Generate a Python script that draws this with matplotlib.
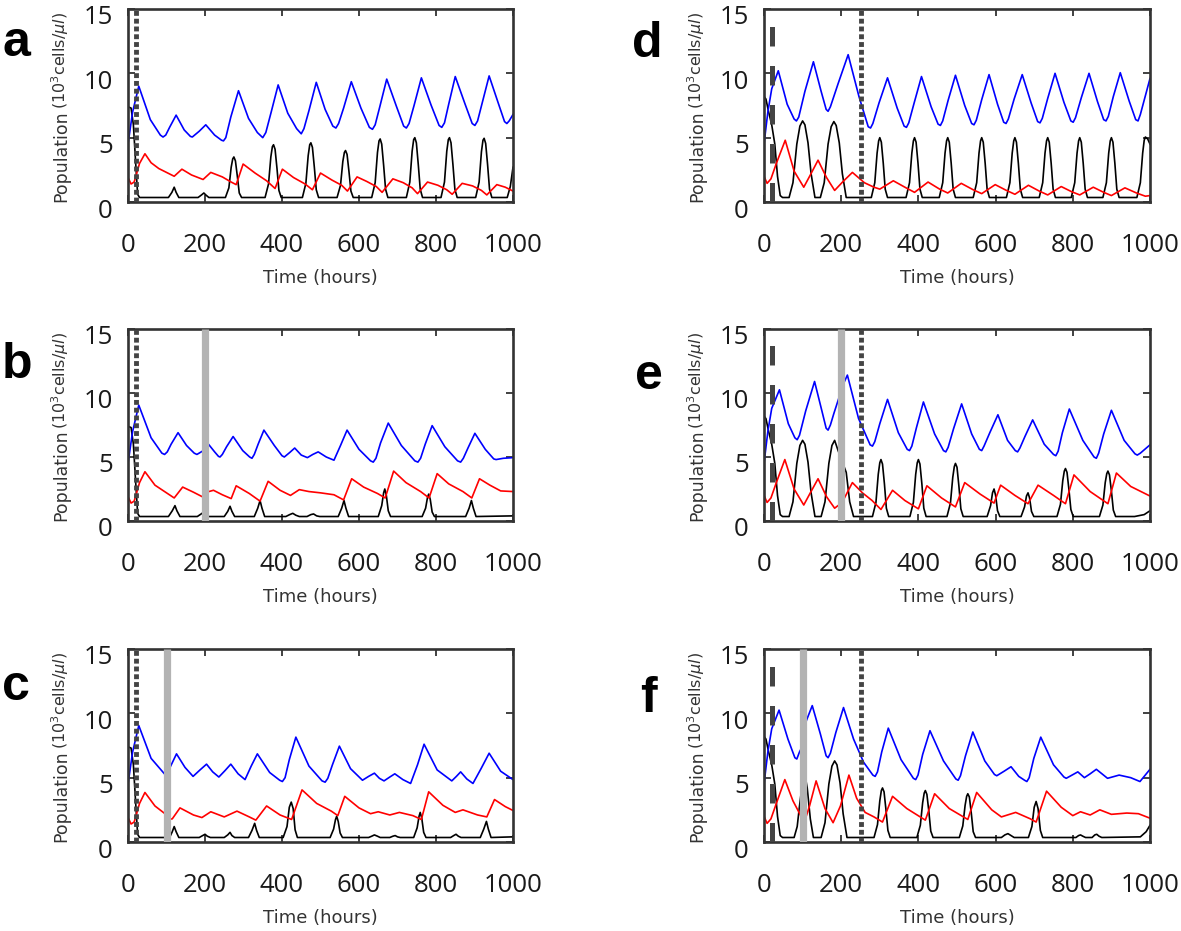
import numpy as np
import matplotlib.pyplot as plt
from matplotlib.transforms import ScaledTranslation

# --- Daten: (Zeit in Stunden, Population in 10^3 Zellen/ul) ---
t_ticks = [0, 200, 400, 600, 800, 1000]
y_ticks = [0, 5, 10, 15]

a_blue = [(0,4.5),(12,7.0),(28,9.0),(58,6.4),(84,5.2),(91,5.05),(98,5.2),(108,5.8),(125,6.75),(146,5.6),(162,5.1),(167,5.05),(185,5.5),
          (202,6.0),(225,5.2),(243,4.8),(248,4.75),(254,5.0),(267,6.6),(287,8.65),(313,6.5),(336,5.4),(350,5.0),(358,5.4),(372,7.0),(390,9.1),
          (415,6.9),(438,5.7),(450,5.3),(457,5.7),(470,7.1),(489,9.3),(512,7.2),(532,5.9),(540,5.75),(547,6.1),(560,7.3),(580,9.35),(605,7.3),
          (627,5.8),(635,5.65),(642,6.0),(654,7.4),(672,9.55),(697,7.45),(716,5.9),(723,5.75),(730,6.1),(743,7.5),(762,9.65),(787,7.55),(808,5.95),(815,5.8),(822,6.15),(833,7.6),
          (850,9.75),(875,7.65),(894,6.1),(901,5.95),(908,6.3),(920,7.7),(938,9.8),(961,7.75),(978,6.25),(984,6.1),(990,6.3),(1000,6.8)]
a_red = [(0,1.9),(8,1.4),(16,1.55),(30,3.0),(44,3.75),(60,3.05),(80,2.6),(100,2.3),(120,2.0),(140,2.55),
         (165,2.1),(195,1.75),(215,2.3),(245,1.95),(268,1.55),(281,1.35),(299,2.95),(330,2.25),(360,1.65),(382,1.05),
         (401,2.55),(430,1.9),(460,1.4),(479,0.95),(500,2.25),(530,1.7),(555,1.3),(570,0.85),(595,1.95),(620,1.6),
         (645,1.2),(660,0.75),(688,1.8),(715,1.5),(738,1.1),(752,0.65),(778,1.55),(805,1.3),(828,0.95),(842,0.6),
         (868,1.45),(895,1.25),(918,0.9),(932,0.55),(958,1.35),(980,1.15),(1000,0.85)]
a_black = [(0,7.4),(8,7.3),(14,6.0),(20,3.0),(25,0.6),(30,0.35),
           (105,0.35),(114,0.75),(120,1.15),(125,0.75),(132,0.35),
           (182,0.35),(191,0.55),(197,0.7),(202,0.55),(210,0.35),
           (253,0.35),(262,1.1),(268,2.7),(272,3.35),(275,3.5),(279,3.2),(284,2.0),(289,0.7),(295,0.35),
           (356,0.35),(365,1.4),(371,3.5),(375,4.3),(378,4.45),(382,4.1),(387,2.6),(392,0.9),(398,0.35),
           (453,0.35),(462,1.45),(468,3.6),(472,4.45),(475,4.6),(479,4.25),(484,2.7),(489,0.95),(495,0.35),
           (543,0.35),(552,1.3),(558,3.15),(562,3.85),(565,4.0),(569,3.7),(574,2.35),(579,0.85),(585,0.35),
           (633,0.35),(642,1.5),(648,3.85),(652,4.75),(655,4.9),(659,4.5),(664,2.85),(669,1.0),(675,0.35),
           (723,0.35),(732,1.55),(738,3.95),(742,4.85),(745,5.0),(749,4.6),(754,2.9),(759,1.0),(765,0.35),
           (813,0.35),(822,1.55),(828,3.95),(832,4.85),(835,5.0),(839,4.6),(844,2.9),(849,1.0),(855,0.35),
           (903,0.35),(912,1.55),(918,3.9),(922,4.8),(925,4.95),(929,4.55),(934,2.9),(939,1.0),(945,0.35),
           (985,0.35),(993,1.2),(1000,2.7)]

b_blue = [(0,4.5),(12,7.0),(28,9.05),(60,6.5),(88,5.3),(95,5.2),(102,5.4),(112,6.0),(130,6.9),(152,5.9),(172,5.3),(179,5.2),(193,5.45),
          (209,6.0),(225,5.4),(235,5.05),(239,5.0),(245,5.2),(256,5.8),(273,6.6),(298,5.5),(316,5.0),(322,4.9),(328,5.2),(338,6.0),(353,7.1),(380,5.9),
          (400,5.1),(406,5.0),(420,5.35),(433,5.7),(450,5.15),(466,4.95),(480,5.2),(494,5.4),(515,5.0),(535,4.75),(552,5.9),
          (569,7.1),(600,5.6),(630,4.7),(637,4.6),(644,4.9),(656,6.1),(676,7.65),(710,5.9),(745,4.7),(753,4.6),(760,4.9),(772,6.0),(790,7.45),(823,5.8),
          (856,4.7),(864,4.6),(871,4.9),(883,5.7),(901,6.85),(928,5.6),(950,4.85),(956,4.8),(975,4.9),(1000,4.95)]
b_red = [(0,1.9),(8,1.4),(16,1.55),(30,3.0),(44,3.85),(70,2.8),(100,2.2),(120,1.8),(142,2.65),(170,2.25),
         (196,1.85),(204,2.25),(222,2.4),(245,2.05),(268,1.75),(281,2.75),(315,2.15),(343,1.55),(364,3.1),(395,2.4),
         (422,2.0),(445,2.45),(470,2.3),(500,2.2),(535,2.05),(560,1.65),(581,3.3),(612,2.65),(648,2.15),(668,1.8),
         (690,3.9),(722,3.0),(760,2.3),(782,1.8),(803,3.7),(833,2.9),(870,2.3),(893,1.8),(913,3.3),(940,2.8),
         (968,2.35),(1000,2.3)]
b_black = [(0,7.4),(8,7.3),(14,6.0),(20,3.0),(25,0.6),(30,0.35),
           (105,0.35),(115,0.8),(122,1.2),(127,0.8),(135,0.35),
           (180,0.35),(190,0.55),(197,0.7),(203,0.4),(210,0.35),
           (250,0.35),(259,0.75),(265,1.15),(270,0.75),(277,0.35),
           (328,0.35),(337,1.0),(343,1.6),(348,1.0),(355,0.35),
           (410,0.35),(420,0.5),(428,0.6),(436,0.45),(445,0.35),
           (465,0.35),(475,0.5),(482,0.55),(490,0.4),(498,0.35),
           (546,0.35),(555,1.0),(561,1.6),(566,1.0),(573,0.35),
           (650,0.35),(659,1.2),(664,2.2),(667,2.5),(671,2.0),(676,0.8),(682,0.35),
           (764,0.35),(773,1.0),(778,1.85),(781,2.1),(785,1.7),(790,0.7),(796,0.35),
           (877,0.35),(886,1.0),(892,1.6),(897,1.0),(904,0.35),(1000,0.4)]

c_blue = [(0,4.5),(12,7.0),(28,9.05),(60,6.5),(96,5.25),(106,5.6),(126,6.85),(148,5.8),(169,5.1),(187,5.6),
          (204,6.05),(220,5.45),(236,5.05),(252,5.55),(267,6.05),(286,5.3),(304,4.85),(320,5.9),(336,6.85),(368,5.4),
          (394,4.8),(401,4.7),(408,5.0),(419,6.4),(436,8.15),(470,5.9),(504,4.75),(512,4.65),(519,4.95),(531,6.0),(549,7.45),(578,5.7),(609,4.8),(625,5.1),
          (640,5.35),(653,4.95),(665,4.75),(680,5.05),(693,5.3),(714,4.85),(734,4.55),(752,6.0),(769,7.6),(803,5.6),
          (841,4.75),(853,5.1),(864,5.45),(880,4.9),(896,4.55),(917,5.7),(938,6.9),(968,5.5),(1000,4.85)]
c_red = [(0,1.9),(8,1.4),(16,1.55),(30,3.0),(44,3.85),(70,2.8),(96,2.2),(104,1.75),(115,1.8),(135,2.65),
         (170,2.1),(192,1.9),(215,2.35),(250,1.95),(283,2.4),(315,1.95),(332,1.7),(360,2.8),(395,2.1),(425,1.75),
         (452,4.05),(490,3.0),(528,2.4),(545,2.05),(563,3.55),(600,2.65),(630,2.2),(650,2.35),(680,2.1),(705,2.3),
         (740,2.05),(762,1.75),(781,3.9),(818,2.85),(850,2.3),(870,2.5),(908,2.1),(932,1.95),(952,3.3),(980,2.75),
         (1000,2.45)]
c_black = [(0,7.4),(8,7.3),(14,6.0),(20,3.0),(25,0.6),(30,0.35),
           (108,0.35),(115,0.8),(120,1.2),(125,0.8),(132,0.35),
           (185,0.35),(194,0.5),(200,0.6),(206,0.45),(214,0.35),
           (250,0.35),(259,0.55),(265,0.75),(270,0.5),(277,0.35),
           (313,0.35),(322,0.9),(329,1.45),(334,0.9),(341,0.35),
           (403,0.35),(413,1.2),(419,2.7),(424,3.1),(429,2.6),(434,0.95),(440,0.35),
           (525,0.35),(534,1.0),(539,1.75),(542,2.0),(546,1.6),(551,0.7),(557,0.35),
           (625,0.35),(633,0.45),(640,0.55),(648,0.45),(655,0.35),
           (680,0.35),(688,0.45),(694,0.5),(700,0.4),(707,0.35),
           (742,0.35),(751,1.1),(756,2.0),(759,2.3),(763,1.85),(768,0.75),(774,0.35),
           (838,0.35),(846,0.5),(852,0.6),(858,0.45),(865,0.35),
           (915,0.35),(924,1.0),(931,1.6),(936,1.0),(943,0.35),(1000,0.4)]

d_blue = [(0,4.5),(10,7.0),(20,8.8),(37,10.2),(60,7.6),(78,6.45),(84,6.3),(90,6.6),(106,8.6),(128,10.9),(148,8.6),(161,7.2),(166,7.05),(172,7.4),
          (192,9.2),(218,11.45),(246,8.2),(270,5.85),(276,5.75),(282,6.1),(298,7.7),(320,9.65),(345,7.3),(363,5.9),(369,5.8),(375,6.15),(389,7.7),(408,9.75),
          (433,7.4),(451,6.05),(457,5.95),(463,6.3),(477,7.9),(496,9.85),(520,7.5),(538,6.1),(544,6.0),(550,6.35),(564,7.95),(583,9.9),(605,7.6),(621,6.2),(627,6.1),
          (633,6.45),(648,8.0),(669,9.9),(692,7.7),(709,6.25),(715,6.15),(721,6.5),(735,8.05),(754,10.0),(777,7.75),(795,6.3),(801,6.2),(807,6.55),(822,8.1),(842,10.0),
          (864,7.8),(880,6.4),(886,6.3),(892,6.65),(905,8.2),(923,10.05),(946,7.85),(963,6.4),(969,6.3),(975,6.8),(1000,9.6)]
d_red = [(0,2.0),(8,1.45),(18,1.8),(32,3.0),(55,4.8),(78,2.4),(103,1.15),(120,2.1),(140,3.25),(162,1.9),
         (183,0.9),(205,1.6),(229,2.3),(260,1.5),(285,1.15),(300,1.0),(335,1.65),(368,1.1),(390,0.75),(425,1.55),
         (455,1.0),(476,0.7),(511,1.45),(542,0.95),(564,0.65),(599,1.35),(628,0.9),(650,0.6),(685,1.3),(713,0.85),
         (735,0.55),(770,1.2),(797,0.8),(818,0.55),(853,1.15),(880,0.75),(900,0.5),(935,1.1),(965,0.7),(988,0.45),
         (1000,0.5)]
d_black = [(0,8.2),(5,8.0),(12,7.0),(20,6.0),(28,4.5),(35,2.0),(42,0.5),(48,0.35),
           (65,0.35),(75,1.5),(85,4.5),(93,5.9),(100,6.3),(106,6.0),(114,4.6),(122,2.2),(132,0.35),
           (146,0.35),(156,1.5),(166,4.5),(174,5.85),(181,6.25),(187,5.95),(195,4.6),(203,2.2),(213,0.35),
           (278,0.35),(287,1.5),(293,3.8),(297,4.75),(300,5.0),(304,4.65),(309,3.0),(314,1.0),(320,0.35),
           (368,0.35),(377,1.5),(383,3.8),(387,4.75),(390,5.0),(394,4.65),(399,3.0),(404,1.0),(410,0.35),
           (454,0.35),(463,1.5),(469,3.8),(473,4.75),(476,5.0),(480,4.65),(485,3.0),(490,1.0),(496,0.35),
           (542,0.35),(551,1.5),(557,3.8),(561,4.75),(564,5.0),(568,4.65),(573,3.0),(578,1.0),(584,0.35),
           (628,0.35),(637,1.5),(643,3.8),(647,4.75),(650,5.0),(654,4.65),(659,3.0),(664,1.0),(670,0.35),
           (713,0.35),(722,1.5),(728,3.8),(732,4.75),(735,5.0),(739,4.65),(744,3.0),(749,1.0),(755,0.35),
           (796,0.35),(805,1.5),(811,3.8),(815,4.75),(818,5.0),(822,4.65),(827,3.0),(832,1.0),(838,0.35),
           (878,0.35),(887,1.5),(893,3.8),(897,4.75),(900,5.0),(904,4.65),(909,3.0),(914,1.0),(920,0.35),
           (966,0.35),(975,1.5),(981,3.8),(985,4.8),(988,5.05),(994,4.9),(1000,4.5)]

e_blue = [(0,4.5),(10,7.0),(20,8.8),(40,10.25),(63,7.6),(80,6.5),(86,6.35),(92,6.7),(108,8.6),(131,10.9),(150,8.6),(161,7.25),(166,7.1),(172,7.5),
          (181,8.4),(196,9.8),(204,10.6),(216,11.4),(245,8.0),(275,5.95),(281,5.85),(287,6.2),(300,7.6),(320,9.5),(348,6.9),(371,5.6),(377,5.5),(383,5.85),
          (395,7.3),(413,9.3),(442,6.8),(465,5.5),(471,5.4),(477,5.75),(491,7.2),(512,9.15),(538,6.8),(558,5.6),(564,5.5),(570,5.85),(585,6.9),(606,8.3),
          (631,6.3),(651,5.5),(657,5.4),(663,5.7),(676,6.6),(696,7.9),(726,6.0),(750,5.2),(756,5.1),(762,5.45),(773,6.9),(791,8.75),(826,6.3),(855,5.0),(861,4.9),
          (867,5.3),(880,6.8),(900,8.65),(933,6.3),(961,5.25),(967,5.15),(975,5.3),(1000,5.95)]
e_red = [(0,2.0),(8,1.45),(18,1.8),(32,3.0),(54,4.8),(78,2.5),(103,1.25),(120,2.2),(140,3.3),(162,1.9),
         (183,1.0),(196,1.3),(205,1.6),(229,3.0),(255,2.2),(280,1.6),(303,0.9),(333,2.4),(365,1.6),(400,0.95),
         (422,2.75),(460,1.8),(496,1.1),(520,3.0),(560,2.1),(596,1.4),(613,2.8),(650,2.0),(684,1.35),(710,2.8),
         (750,2.0),(781,1.35),(803,3.6),(845,2.3),(891,1.35),(913,3.75),(950,2.7),(1000,1.95)]
e_black = [(0,8.2),(5,8.0),(12,7.0),(20,6.0),(28,4.5),(35,2.0),(42,0.5),(48,0.35),
           (65,0.35),(75,1.5),(85,4.5),(93,5.9),(100,6.3),(106,6.0),(114,4.6),(122,2.2),(132,0.35),
           (148,0.35),(158,1.5),(168,4.5),(176,5.9),(183,6.3),(192,5.5),(213,3.8),(222,1.5),(232,0.35),
           (281,0.35),(290,1.45),(296,3.65),(300,4.55),(303,4.8),(307,4.45),(312,2.9),(317,1.0),(323,0.35),
           (378,0.35),(387,1.45),(393,3.65),(397,4.55),(400,4.8),(404,4.45),(409,2.9),(414,1.0),(420,0.35),
           (474,0.35),(483,1.4),(489,3.4),(493,4.25),(496,4.5),(500,4.2),(505,2.7),(510,0.95),(516,0.35),
           (578,0.35),(587,1.2),(592,2.2),(596,2.5),(600,2.0),(605,0.8),(611,0.35),
           (666,0.35),(675,1.1),(680,1.95),(684,2.2),(688,1.8),(693,0.75),(699,0.35),
           (759,0.35),(768,1.3),(774,3.15),(778,3.9),(781,4.1),(785,3.8),(790,2.45),(795,0.9),(801,0.35),
           (869,0.35),(878,1.25),(884,3.0),(888,3.7),(891,3.9),(895,3.6),(900,2.35),(905,0.85),(911,0.35),
           (960,0.35),(985,0.5),(1000,0.8)]

f_blue = [(0,4.5),(10,7.0),(20,8.8),(39,10.25),(62,8.0),(80,6.55),(85,6.45),(92,7.0),(97,7.3),(104,8.9),(110,9.45),
          (125,10.6),(146,8.4),(161,6.7),(166,6.55),(172,6.9),(186,8.5),(206,10.45),(232,8.0),(258,6.2),(282,5.2),(288,5.1),(294,5.45),(305,7.0),(322,8.85),
          (355,6.4),(387,4.95),(393,4.85),(399,5.2),(411,6.8),(430,8.65),(465,6.3),(497,4.9),(503,4.8),(509,5.15),(522,6.7),(541,8.55),(572,6.3),(597,5.25),(603,5.15),
          (622,5.5),(640,5.85),(660,5.1),(675,4.8),(681,4.7),(687,5.0),(699,6.5),(717,8.15),(750,6.0),(777,5.05),(783,4.95),(798,5.2),(813,5.45),
          (830,5.0),(845,5.3),(861,5.65),(890,4.95),(920,5.2),(950,5.0),(974,4.7),(1000,5.65)]
f_red = [(0,2.0),(8,1.45),(18,1.8),(32,3.0),(54,4.85),(75,3.2),(96,2.0),(104,1.5),(118,2.8),(135,4.75),
         (158,2.6),(179,1.5),(198,2.8),(220,5.2),(240,3.4),(262,2.3),(285,1.95),(307,1.55),(333,3.55),(370,2.6),
         (418,1.7),(442,3.75),(480,2.6),(528,1.75),(551,3.85),(590,2.5),(615,1.95),(652,2.3),(690,1.8),(705,1.55),
         (732,3.95),(770,2.7),(800,2.05),(820,2.35),(845,2.1),(870,2.5),(900,2.15),(940,2.25),(970,2.2),(1000,1.85)]
f_black = [(0,8.2),(5,8.0),(12,7.0),(20,6.0),(28,4.5),(35,2.0),(42,0.5),(48,0.35),
           (78,0.35),(86,1.2),(92,2.8),(97,4.0),(104,5.6),(112,4.2),(120,1.8),(128,0.35),
           (148,0.35),(158,1.5),(168,4.5),(176,5.9),(183,6.3),(189,6.0),(197,4.6),(205,2.2),(215,0.35),
           (285,0.35),(294,1.35),(300,3.2),(304,4.0),(307,4.2),(311,3.9),(316,2.5),(321,0.9),(327,0.35),
           (396,0.35),(405,1.3),(411,3.05),(415,3.8),(418,4.0),(422,3.7),(427,2.4),(432,0.85),(438,0.35),
           (506,0.35),(515,1.25),(521,2.85),(525,3.55),(528,3.75),(532,3.5),(537,2.25),(542,0.8),(548,0.35),
           (615,0.35),(624,0.55),(632,0.65),(640,0.5),(648,0.35),
           (685,0.35),(694,1.2),(700,2.7),(705,3.15),(710,2.6),(716,0.9),(722,0.35),
           (808,0.35),(815,0.5),(820,0.55),(826,0.45),(833,0.35),
           (850,0.35),(857,0.55),(862,0.6),(868,0.45),(875,0.35),
           (975,0.4),(990,0.8),(1000,1.3)]

# Markierungen (Zeitpunkte in Stunden)
dotted_a, bar_a, dashed_a = [20], [], []
dotted_b, bar_b, dashed_b = [20], [200], []
dotted_c, bar_c, dashed_c = [20], [100], []
dotted_d, bar_d, dashed_d = [250], [], [20]
dotted_e, bar_e, dashed_e = [250], [200], [20]
dotted_f, bar_f, dashed_f = [250], [100], [20]

# --- Layout (Pixel der Vorlage -> Figurenbruchteile) ---
W, H = 1181, 931
fig = plt.figure(figsize=(W / 100, H / 100), dpi=100)

def px_axes(x0, x1, y0, y1):
    return fig.add_axes([x0 / W, 1 - y1 / H, (x1 - x0) / W, (y1 - y0) / H])

panels = [
    ('a', (128, 513, 9, 202), a_blue, a_red, a_black, dotted_a, bar_a, dashed_a, (2, 56)),
    ('b', (128, 513, 329, 521), b_blue, b_red, b_black, dotted_b, bar_b, dashed_b, (2, 378)),
    ('c', (128, 513, 649, 842), c_blue, c_red, c_black, dotted_c, bar_c, dashed_c, (2, 700)),
    ('d', (764, 1150, 9, 202), d_blue, d_red, d_black, dotted_d, bar_d, dashed_d, (632, 57)),
    ('e', (764, 1150, 329, 521), e_blue, e_red, e_black, dotted_e, bar_e, dashed_e, (635, 389)),
    ('f', (764, 1150, 649, 842), f_blue, f_red, f_black, dotted_f, bar_f, dashed_f, (640, 712)),
]

tick_font = ['Open Sans', 'DejaVu Sans']
frame_col = '#333333'
mark_col = '#444444'

for letter, box, blue, red, black, dotted, bars, dashed, lpos in panels:
    ax = px_axes(*box)
    for series, col in [(black, 'black'), (red, '#ff0000'), (blue, '#0000ff')]:
        t, v = zip(*series)
        ax.plot(t, v, color=col, lw=1.2, zorder=2)

    for tb in bars:
        ax.plot([tb, tb], [0, 15], color='#b3b3b3', lw=5.2, solid_capstyle='butt', zorder=4)
    for td in dotted:
        ax.plot([td, td], [0, 15], color=mark_col, lw=3.5, linestyle=(0, (1.0, 0.6)), zorder=5)
    for tl in dashed:
        ax.plot([tl, tl], [0, 15], color=mark_col, lw=3.6, linestyle=(0, (3.9, 3.9)), zorder=5)

    ax.set_xlim(0, 1000)
    ax.set_ylim(0, 15)
    ax.set_xticks(t_ticks)
    ax.set_yticks(y_ticks)
    ax.tick_params(direction='in', top=True, right=True, length=5, width=1.3, color=frame_col)
    ax.tick_params(axis='x', pad=22)
    ax.tick_params(axis='y', pad=11)
    for sp in ax.spines.values():
        sp.set_linewidth(1.9)
        sp.set_color(frame_col)
    for lab in ax.get_xticklabels() + ax.get_yticklabels():
        lab.set_family(tick_font)
        lab.set_fontsize(18.5)
        lab.set_color('#1a1a1a')
    # y-Beschriftungen sitzen in der Vorlage etwas tiefer als die Striche
    for lab in ax.get_yticklabels():
        lab.set_transform(lab.get_transform() + ScaledTranslation(0, -6 / 100, fig.dpi_scale_trans))

    ylab_tr = ax.transAxes + ScaledTranslation(-62 / 100, 0, fig.dpi_scale_trans)
    ax.text(0, 0.0, 'Population', rotation=90, rotation_mode='anchor', ha='left', va='baseline',
            fontsize=12.5, color='#333333', transform=ylab_tr)
    ax.text(0, 0.48, r'(10$^3$cells/$\mu l$)', rotation=90, rotation_mode='anchor', ha='left', va='baseline',
            fontsize=11.5, color='#333333', transform=ylab_tr)

    xlab_tr = ax.transAxes + ScaledTranslation(0, -76 / 100, fig.dpi_scale_trans)
    ax.text(0.5, 0, 'Time (hours)', ha='center', va='center', fontsize=13, color='#333333',
            transform=xlab_tr)

    fig.text(lpos[0] / W, 1 - lpos[1] / H, letter, fontsize=36, fontweight='bold',
             family=['Liberation Sans', 'DejaVu Sans'], ha='left', va='baseline')

fig.savefig('out.png', dpi=100)
